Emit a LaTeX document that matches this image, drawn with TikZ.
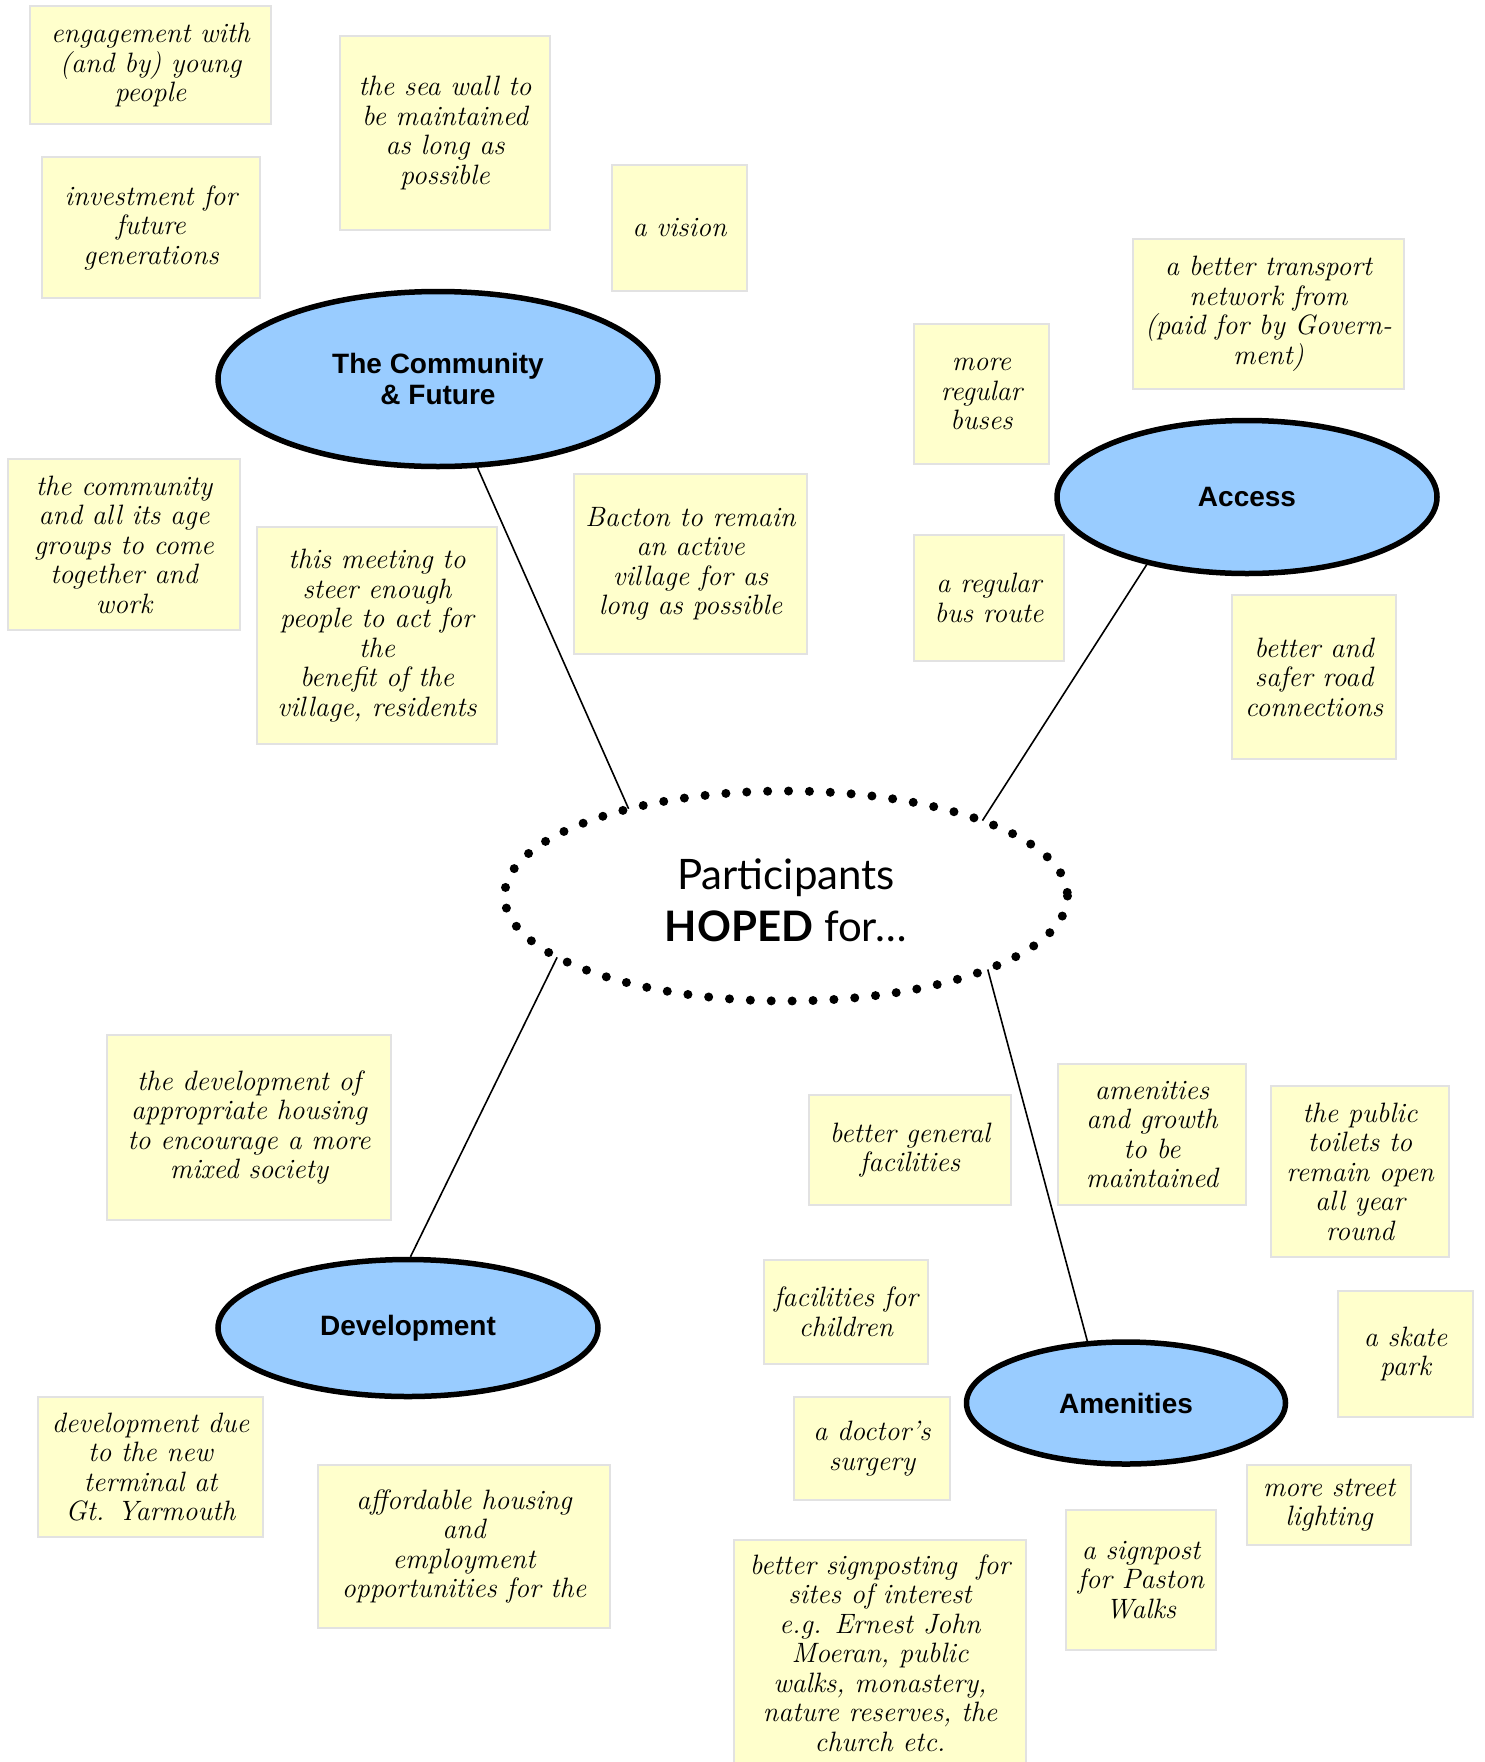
\documentclass[tikz,border=0pt]{standalone}
\usepackage{fontspec}
\usetikzlibrary{shapes.geometric}
\newfontfamily\labfont{Liberation Sans}
\newfontfamily\ctrfont{Lato}
\definecolor{notefill}{HTML}{FFFFCC}
\definecolor{noteline}{HTML}{E2E2E2}
\definecolor{ellfill}{HTML}{99CCFF}
\begin{document}
\begin{tikzpicture}[x=1pt,y=-1pt,
  note/.style={draw=noteline, fill=notefill, line width=2pt, inner sep=0pt,
    align=center, font=\itshape\fontsize{28}{29.5}\selectfont},
  topic/.style={ellipse, draw=black, fill=ellfill, line width=5.5pt, inner sep=0pt,
    align=center, font=\labfont\bfseries\fontsize{28}{31}\selectfont},
  link/.style={draw=black, line width=1.6pt}]
\useasboundingbox (0,0) rectangle (1484,1762);
\fill[white] (0,0) rectangle (1484,1762);

% topics
\node[topic, minimum width=440pt, minimum height=175pt] (comm) at (438,379) {The Community\\\& Future};
\node[topic, minimum width=380pt, minimum height=153pt] (access) at (1247,497) {Access};
\node[topic, minimum width=380pt, minimum height=137pt] (dev) at (408,1328) {Development};
\node[topic, minimum width=319pt, minimum height=122pt] (amen) at (1126,1403) {Amenities};
\node[ellipse, minimum width=563pt, minimum height=210pt, inner sep=0pt, align=center,
  font=\ctrfont\fontsize{42}{52}\selectfont] (main) at (786,896) {};
\node[align=center, font=\ctrfont\fontsize{42}{52}\selectfont] (maintext) at (786,900) {Participants\\\textbf{HOPED} for…};
\draw[line width=9pt, line cap=round, dash pattern=on 0pt off 20.9pt]
  (786,896) ellipse [x radius=281.5, y radius=105];

% connectors
\draw[link] (comm.-66.2) -- (main.151.3);
\draw[link] (access.-146.4) -- (main.21.6);
\draw[link] (dev.88.3) -- (main.195.9);
\draw[link] (amen.122.6) -- (main.-20.4);

% notes
\node[note, minimum width=241pt, minimum height=118pt] (n1) at (150.5,65) {engagement with\\(and by) young\\people};
\node[note, minimum width=218pt, minimum height=141pt] (n2) at (151,227.5) {investment for\\future\\generations};
\node[note, minimum width=210pt, minimum height=194pt] (n3) at (445,133) {the sea wall to\\be maintained\\as long as\\possible};
\node[note, minimum width=135pt, minimum height=126pt] (n4) at (679.5,228) {a vision};
\node[note, minimum width=232pt, minimum height=171pt] (n6) at (124,544.5) {the community\\and all its age\\groups to come\\together and\\work};
\node[note, minimum width=240pt, minimum height=217pt] (n7) at (377,635.5) {this meeting to\\steer enough\\people to act for\\the\\benefit of the\\village, residents};
\node[note, minimum width=233pt, minimum height=180pt] (n8) at (690.5,564) {Bacton to remain\\an active\\village for as\\long as possible};
\node[note, minimum width=135pt, minimum height=140pt] (n9) at (981.5,394) {more\\regular\\buses};
\node[note, minimum width=271pt, minimum height=150pt] (n10) at (1268.5,314) {a better transport\\network from\\(paid for by Govern-\\ment)};
\node[note, minimum width=150pt, minimum height=126pt] (n12) at (989,598) {a regular\\bus route};
\node[note, minimum width=164pt, minimum height=164pt] (n13) at (1314,677) {better and\\safer road\\connections};
\node[note, minimum width=284pt, minimum height=185pt] (n15) at (249,1127.5) {the development of\\appropriate housing\\to encourage a more\\mixed society};
\node[note, minimum width=202pt, minimum height=110pt] (n16) at (910,1150) {better general\\facilities};
\node[note, minimum width=188pt, minimum height=141pt] (n17) at (1152,1134.5) {amenities\\and growth\\to be\\maintained};
\node[note, minimum width=178pt, minimum height=171pt] (n18) at (1360,1171.5) {the public\\toilets to\\remain open\\all year\\round};
\node[note, minimum width=164pt, minimum height=104pt] (n20) at (846,1312) {facilities for\\children};
\node[note, minimum width=135pt, minimum height=126pt] (n21) at (1405.5,1354) {a skate\\park};
\node[note, minimum width=225pt, minimum height=140pt] (n23) at (150.5,1467) {development due\\to the new\\terminal at\\Gt. Yarmouth};
\node[note, minimum width=292pt, minimum height=163pt] (n24) at (464,1546.5) {affordable housing\\and\\employment\\opportunities for the};
\node[note, minimum width=156pt, minimum height=103pt] (n25) at (872,1448.5) {a doctor’s\\surgery};
\node[note, minimum width=164pt, minimum height=80pt] (n26) at (1329,1505) {more street\\lighting};
\node[note, minimum width=150pt, minimum height=140pt] (n27) at (1141,1580) {a signpost\\for Paston\\Walks};
\node[note, minimum width=292pt, minimum height=226pt] (n28) at (880,1653) {better signposting\ \ for\\sites of interest\\e.g. Ernest John\\Moeran, public\\walks, monastery,\\nature reserves, the\\church etc.};
\end{tikzpicture}
\end{document}
